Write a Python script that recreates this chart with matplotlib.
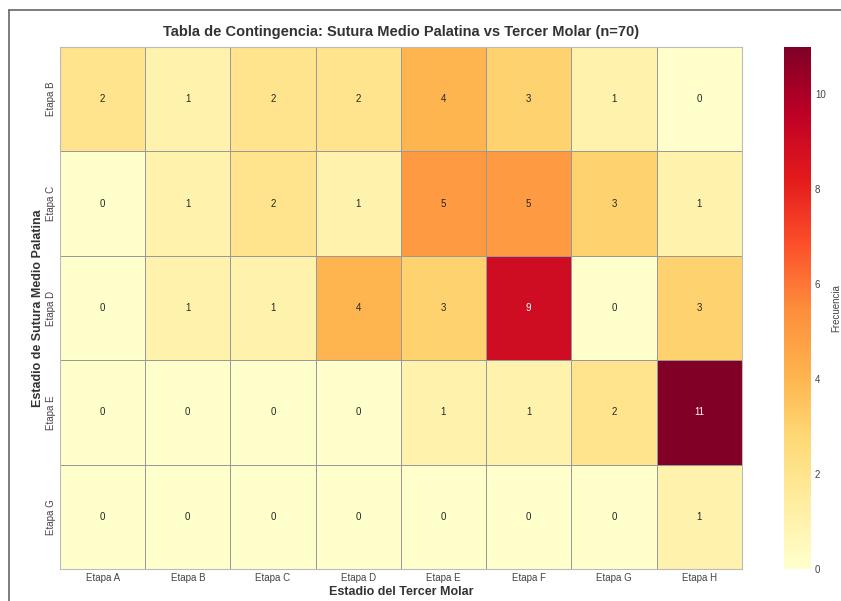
import numpy as np
import matplotlib
matplotlib.use("Agg")
import matplotlib.pyplot as plt
import seaborn as sns
from matplotlib.lines import Line2D

## Data
col_labels = ["Etapa A", "Etapa B", "Etapa C", "Etapa D", "Etapa E", "Etapa F", "Etapa G", "Etapa H"]
row_labels = ["Etapa B", "Etapa C", "Etapa D", "Etapa E", "Etapa G"]

etapa_b = [2, 1, 2, 2, 4, 3, 1, 0]
etapa_c = [0, 1, 2, 1, 5, 5, 3, 1]
etapa_d = [0, 1, 1, 4, 3, 9, 0, 3]
etapa_e = [0, 0, 0, 0, 1, 1, 2, 11]
etapa_g = [0, 0, 0, 0, 0, 0, 0, 1]

counts = np.array([etapa_b, etapa_c, etapa_d, etapa_e, etapa_g])

sns.set_style("whitegrid")
plt.rcParams['font.family'] = ['Liberation Sans', 'DejaVu Sans']

fig = plt.figure(figsize=(8.41, 6.01), dpi=100)
ax = fig.add_axes([0.0713, 0.0532, 0.8107, 0.8688])
cax = fig.add_axes([0.932, 0.0532, 0.032, 0.8688])

sns.heatmap(counts, ax=ax, cbar_ax=cax, cmap="YlOrRd", vmin=0, vmax=11,
            annot=True, fmt="d", annot_kws={"size": 7},
            linewidths=0.6, linecolor="#999999",
            xticklabels=col_labels, yticklabels=row_labels,
            cbar_kws={"label": "Frecuencia"})

# outer frame around the cells
for side in ["top", "bottom", "left", "right"]:
    ax.spines[side].set_visible(True)
    ax.spines[side].set_color("#bbbbbb")
    ax.spines[side].set_linewidth(0.8)

ax.set_title("Tabla de Contingencia: Sutura Medio Palatina vs Tercer Molar (n=70)",
             fontsize=10.5, fontweight="bold", color="#333333", pad=8)
ax.set_xlabel("Estadio del Tercer Molar", fontsize=9, fontweight="bold", color="#333333", labelpad=2)
ax.set_ylabel("Estadio de Sutura Medio Palatina", fontsize=9, fontweight="bold", color="#333333", labelpad=1)
ax.tick_params(axis="x", labelsize=7, colors="#444444", length=0, pad=3)
ax.tick_params(axis="y", labelsize=7, colors="#444444", length=0, pad=3)
plt.setp(ax.get_xticklabels(), rotation=0)
plt.setp(ax.get_yticklabels(), rotation=90, va="center")

cax.tick_params(labelsize=7, colors="#444444", length=0, pad=3)
cax.yaxis.label.set_size(7)
cax.yaxis.label.set_color("#444444")

# screenshot border
fig.add_artist(Line2D([9/841, 9/841], [0, 1 - 10/601], transform=fig.transFigure, color="#666666", lw=1.2))
fig.add_artist(Line2D([9/841, 1], [1 - 10/601, 1 - 10/601], transform=fig.transFigure, color="#666666", lw=1.2))

plt.savefig("out.png", dpi=100)
